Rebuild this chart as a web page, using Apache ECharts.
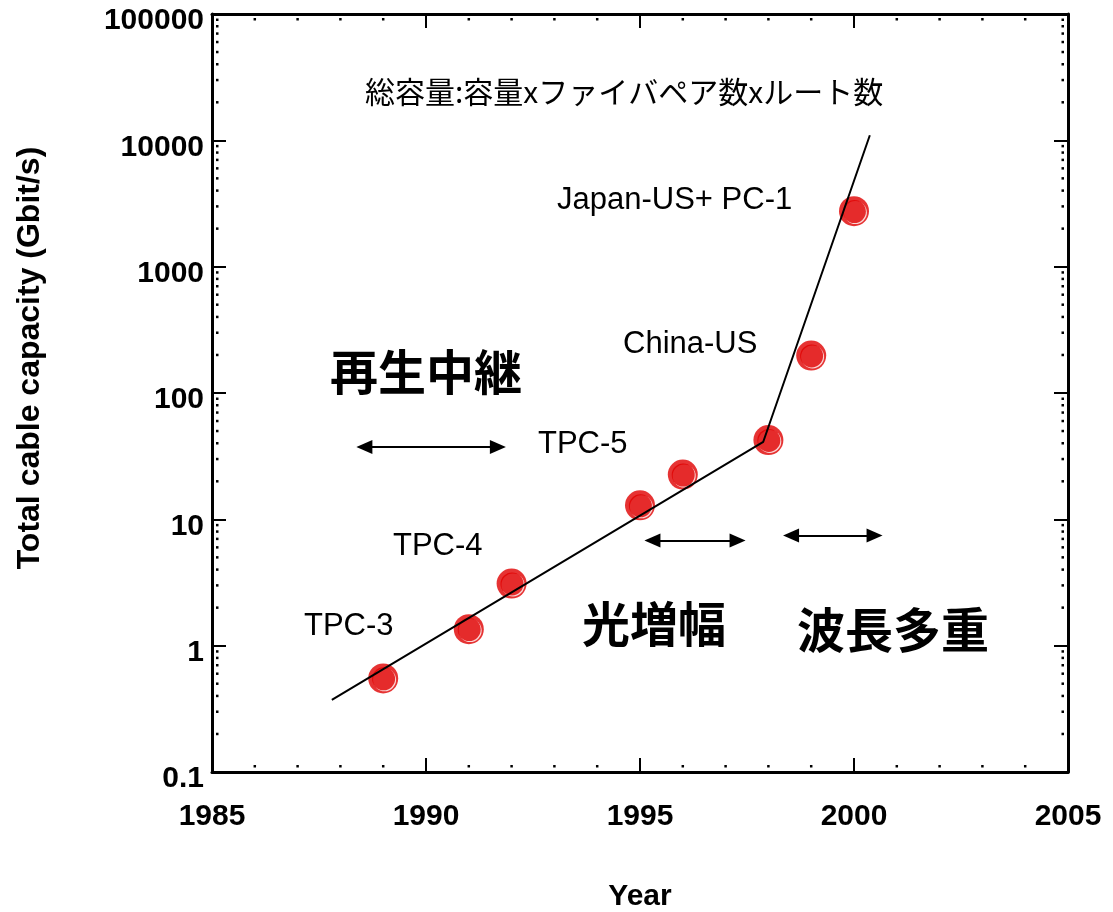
<!DOCTYPE html>
<html>
<head>
<meta charset="utf-8">
<script src="https://cdn.jsdelivr.net/npm/echarts@6/dist/echarts.min.js"></script>
<style>
html,body{margin:0;padding:0;background:#fff;}
#chart{width:1113px;height:912px;}
</style>
</head>
<body>
<div id="chart"></div>
<script>
// ---- data ----
const years = [1989, 1991, 1992, 1995, 1996, 1998, 1999, 2000];
const capacity = [0.55, 1.35, 3.1, 12.9, 22.6, 42.4, 198, 2750];
const trendYears = [1987.8, 1997.88, 2000.37];
const trendValues = [0.373, 41.1, 10965];
const xTicks = [1985, 1990, 1995, 2000, 2005];
const xTickLabels = ['1985', '1990', '1995', '2000', '2005'];
const yTicks = [0.1, 1, 10, 100, 1000, 10000, 100000];
const yTickLabels = ['0.1', '1', '10', '100', '1000', '10000', '100000'];
const eraArrowStart = [1988.56, 1995.29, 1998.53];
const eraArrowEnd = [1991.68, 1997.28, 2000.48];
const eraArrowLevel = [37.3, 6.81, 7.46];
const cableNames = ['TPC-3', 'TPC-4', 'TPC-5', 'China-US', 'Japan-US+ PC-1'];
const eraNames = ['再生中継', '光増幅', '波長多重'];
const formulaText = '総容量:容量xファイバペア数xルート数';
const xName = 'Year';
const yName = 'Total cable capacity (Gbit/s)';

// minor tick positions (axis decoration)
const minorData = [];
for (let e = -1; e < 5; e++) for (let k = 2; k <= 9; k++) {
  const v = k * Math.pow(10, e);
  minorData.push([0, v]); minorData.push([1, v]);
}
for (let y = xTicks[0] + 1; y < xTicks[xTicks.length - 1]; y++) {
  if (xTicks.indexOf(y) < 0) { minorData.push([2, y]); minorData.push([3, y]); }
}

const RED = '#e00000';
const LAT = '"Liberation Sans", Arial, sans-serif';
const JP = '"Noto Sans CJK JP", sans-serif';
const pts = years.map((y, i) => [y, capacity[i]]);

const chart = echarts.init(document.getElementById('chart'));
const xMin = xTicks[0], xMax = xTicks[xTicks.length - 1];
const yMin = yTicks[0], yMax = yTicks[yTicks.length - 1];

function txt(text, x, y, font, align) {
  return { type: 'text', x: x, y: y, z: 50,
    style: { text: text, font: font, fill: '#000', align: align || 'left', verticalAlign: 'middle',
      textAlign: align || 'left', textVerticalAlign: 'middle' } };
}

const axisLineStyle = { show: true, lineStyle: { color: '#000', width: 3 } };
const tickStyle = { show: true, inside: true, length: 14, lineStyle: { color: '#000', width: 2 } };

chart.setOption({
  animation: false,
  backgroundColor: '#fff',
  grid: { left: 212, right: 45, top: 14, bottom: 140 },
  xAxis: [
    { type: 'value', position: 'bottom', min: xMin, max: xMax, interval: 5,
      axisLine: axisLineStyle, axisTick: tickStyle, splitLine: { show: false },
      axisLabel: { margin: 30, color: '#000', fontFamily: LAT, fontWeight: 'bold', fontSize: 30,
        formatter: v => xTickLabels[xTicks.indexOf(v)] } },
    { type: 'value', position: 'top', min: xMin, max: xMax, interval: 5,
      axisLine: axisLineStyle, axisTick: tickStyle, splitLine: { show: false },
      axisLabel: { show: false } }
  ],
  yAxis: [
    { type: 'log', logBase: 10, position: 'left', min: yMin, max: yMax,
      axisLine: axisLineStyle, axisTick: tickStyle, splitLine: { show: false },
      axisLabel: { margin: 8, color: '#000', fontFamily: LAT, fontWeight: 'bold', fontSize: 30,
        verticalAlign: 'top', lineHeight: 14,
        formatter: v => yTickLabels[Math.round(Math.log10(v)) + 1] } },
    { type: 'log', logBase: 10, position: 'right', min: yMin, max: yMax,
      axisLine: axisLineStyle, axisTick: tickStyle, splitLine: { show: false },
      axisLabel: { show: false } }
  ],
  series: [
    { type: 'custom', name: 'minorTicks', xAxisIndex: 0, yAxisIndex: 0, silent: true,
      data: minorData, encode: { x: 0, y: 1 }, z: 5,
      renderItem: function (params, api) {
        const side = api.value(0), v = api.value(1);
        let p, rx, ry;
        if (side === 0) { p = api.coord([xMin, v]); rx = p[0] + 4; ry = p[1] - 1.25; }
        else if (side === 1) { p = api.coord([xMax, v]); rx = p[0] - 6.5; ry = p[1] - 1.25; }
        else if (side === 2) { p = api.coord([v, yMin]); rx = p[0] - 1.25; ry = p[1] - 7; }
        else { p = api.coord([v, yMax]); rx = p[0] - 1.25; ry = p[1] + 4; }
        return { type: 'rect', shape: { x: rx, y: ry, width: 2.5, height: 2.5 }, style: { fill: '#000' } };
      } },
    { type: 'scatter', name: 'back', data: pts, symbol: 'circle', symbolSize: 30,
      itemStyle: { color: RED }, z: 10, silent: true },
    { type: 'scatter', name: 'shine', data: pts, symbol: 'circle', symbolSize: 23, symbolOffset: [1.4, 1.4],
      itemStyle: { color: '#fff' }, z: 11, silent: true },
    { type: 'scatter', name: 'front', data: pts, symbol: 'circle', symbolSize: 23, symbolOffset: [0.4, 0.4],
      itemStyle: { color: RED }, z: 12, silent: true },
    { type: 'line', name: 'trend', data: trendYears.map((y, i) => [y, trendValues[i]]),
      showSymbol: false, symbol: 'none', lineStyle: { color: '#000', width: 2 }, z: 20, silent: true,
      markLine: { silent: true, symbol: ['triangle', 'triangle'], symbolSize: [14, 16],
        lineStyle: { color: '#000', width: 2, type: 'solid' }, label: { show: false },
        data: eraArrowStart.map((s, i) => [
          { coord: [s, eraArrowLevel[i]] }, { coord: [eraArrowEnd[i], eraArrowLevel[i]] }
        ]) } }
  ],
  graphic: [
    txt(formulaText, 365, 92, 'normal 30px ' + JP),
    txt(cableNames[4], 557, 200, 'normal 31px ' + LAT),
    txt(cableNames[3], 623, 344, 'normal 31px ' + LAT),
    txt(cableNames[2], 538, 444, 'normal 31px ' + LAT),
    txt(cableNames[1], 393, 546, 'normal 31px ' + LAT),
    txt(cableNames[0], 304, 626, 'normal 31px ' + LAT),
    txt(eraNames[0], 330, 372, 'bold 48px ' + JP),
    txt(eraNames[1], 582, 624, 'bold 48px ' + JP),
    txt(eraNames[2], 797, 630, 'bold 48px ' + JP),
    txt(xName, 640, 897, 'bold 30px ' + LAT, 'center'),
    Object.assign(txt(yName, 30, 358, 'bold 32px ' + LAT, 'center'), { rotation: Math.PI / 2 })
  ]
});
</script>
</body>
</html>
